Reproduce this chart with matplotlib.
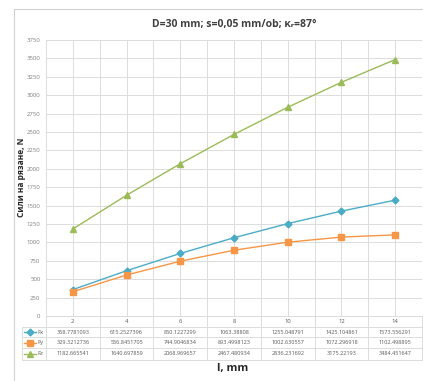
import numpy as np
import matplotlib.pyplot as plt
from matplotlib.lines import Line2D
from matplotlib.patches import Rectangle
from matplotlib.transforms import blended_transform_factory

# Данни: дължина l (mm) и съставящи на силата на рязане (N)
l_mm = [2, 4, 6, 8, 10, 12, 14]
Fx = [358.7781093, 615.2527396, 850.1227299, 1063.38808, 1255.048791, 1425.104861, 1573.556291]
Fy = [329.3212736, 556.8451705, 744.9046834, 893.4998123, 1002.630557, 1072.296918, 1102.498895]
Fz = [1182.665541, 1640.697859, 2068.969657, 2467.480934, 2836.231692, 3175.22193, 3484.451647]
Fx_txt = ['358.7781093', '615.2527396', '850.1227299', '1063.38808', '1255.048791', '1425.104861', '1573.556291']
Fy_txt = ['329.3212736', '556.8451705', '744.9046834', '893.4998123', '1002.630557', '1072.296918', '1102.498895']
Fz_txt = ['1182.665541', '1640.697859', '2068.969657', '2467.480934', '2836.231692', '3175.22193', '3484.451647']
names = ['Fx', 'Fy', 'Fz']

plt.rcParams['font.family'] = ['Open Sans', 'DejaVu Sans']

W, H = 423, 381
fig = plt.figure(figsize=(W / 100, H / 100), dpi=100)

def fx(px):
    return px / W

def fy(py):
    return 1 - py / H

# рамка на диаграмата
fig.add_artist(Rectangle((fx(14), fy(395)), 1.2, fy(9) - fy(395), transform=fig.transFigure,
                         fill=False, edgecolor='#d0d0d0', linewidth=0.8))

ax = fig.add_axes([fx(46), fy(316), fx(422) - fx(46), fy(40) - fy(316)])

series = [
    (Fx, Fx_txt, '#4bacc6', 'D', 3.5),
    (Fy, Fy_txt, '#f79646', 's', 3.8),
    (Fz, Fz_txt, '#9bbb59', '^', 4.4),
]
x = np.arange(len(l_mm))
for (vals, _, col, mk, ms), name in zip(series, names):
    ax.plot(x, vals, color=col, linewidth=1.0, marker=mk, markersize=ms,
            markeredgecolor=col, markerfacecolor=col, label=name, zorder=3)

ax.set_xlim(-0.5, len(l_mm) - 0.5)
ax.set_ylim(0, 3750)
ax.set_yticks(np.arange(0, 3751, 250))
ax.set_xticks(np.arange(-0.5, len(l_mm), 0.5))
ax.tick_params(axis='x', length=0, labelbottom=False)
ax.tick_params(axis='y', length=0, labelsize=4.3, labelcolor='#7f7f7f', pad=4)
ax.grid(True, color='#dcdcdc', linewidth=0.7)
for s in ['top', 'right']:
    ax.spines[s].set_visible(False)
for s in ['left', 'bottom']:
    ax.spines[s].set_color('#dcdcdc')
    ax.spines[s].set_linewidth(0.7)

ax.set_title('D=30 mm; s=0,05 mm/ob; κᵣ=87°', fontsize=7.5, fontweight='bold',
             color='#404040', pad=9)
fig.text(fx(22), fy(177), 'Сили на рязане, N', rotation=90, ha='center', va='center',
         fontsize=6.0, fontweight='bold', color='#262626')
fig.text(fx(233), fy(368), 'l, mm', ha='center', va='center',
         fontsize=8, fontweight='bold', color='#262626')

# таблица с данни под графиката
tr = blended_transform_factory(ax.transData, fig.transFigure)
row_edges = [316, 326.7, 337.3, 348, 359.5]
grid_kw = dict(color='#dcdcdc', linewidth=0.7)
for i, yy in enumerate(row_edges):
    x0 = 46 if i == 0 else 22
    fig.add_artist(Line2D([fx(x0), fx(423)], [fy(yy), fy(yy)], transform=fig.transFigure, **grid_kw))
for k in range(len(l_mm) + 1):
    fig.add_artist(Line2D([k - 0.5, k - 0.5], [fy(316), fy(359.5)], transform=tr, **grid_kw))
fig.add_artist(Line2D([fx(22), fx(22)], [fy(326.7), fy(359.5)], transform=fig.transFigure, **grid_kw))

hdr_y = (row_edges[0] + row_edges[1]) / 2
for xi, lab in zip(x, l_mm):
    fig.text(xi, fy(hdr_y), str(lab), transform=tr, ha='center', va='center',
             fontsize=4.2, color='#595959')
for r, ((vals, txt, col, mk, ms), name) in enumerate(zip(series, names)):
    yc = fy((row_edges[r + 1] + row_edges[r + 2]) / 2)
    fig.add_artist(Line2D([fx(24), fx(36)], [yc, yc], transform=fig.transFigure, color=col,
                          linewidth=1.0))
    fig.add_artist(Line2D([fx(30)], [yc], transform=fig.transFigure, color=col, marker=mk,
                          markersize=ms, linestyle='none'))
    fig.text(fx(37), yc, name, ha='left', va='center', fontsize=4.2, color='#595959')
    for xi, t in zip(x, txt):
        fig.text(xi, yc, t, transform=tr, ha='center', va='center', fontsize=4.0, color='#595959')

fig.savefig('out.png', dpi=100)
